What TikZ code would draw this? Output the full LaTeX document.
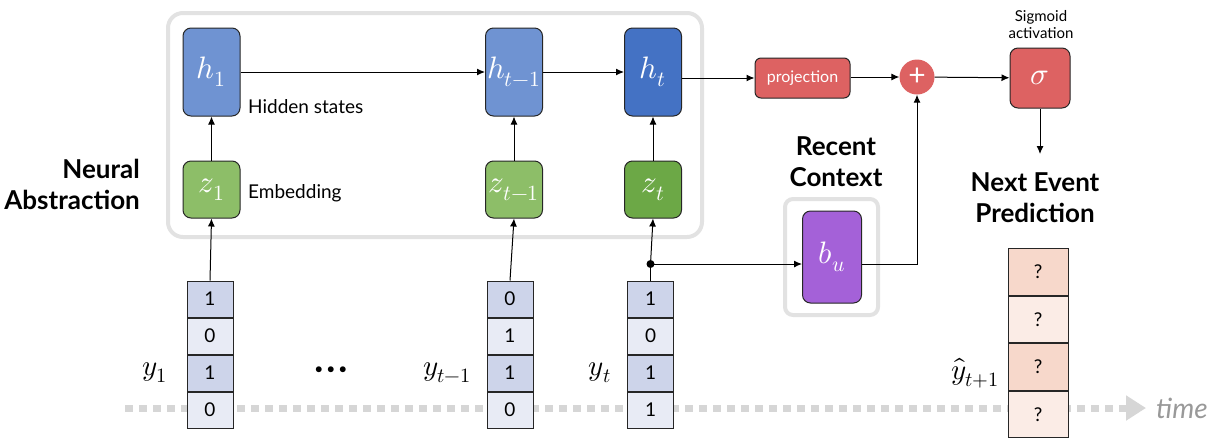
\documentclass[tikz,border=0pt]{standalone}
\usepackage{fontspec}
\usepackage{unicode-math}
\setmainfont{Lato}
\setmathfont{Latin Modern Math}
\usetikzlibrary{arrows.meta,positioning,calc}
\definecolor{hlight}{HTML}{6F93D2}
\definecolor{hdark}{HTML}{4472C4}
\definecolor{zlight}{HTML}{8DBE68}
\definecolor{zdark}{HTML}{6CA846}
\definecolor{redbox}{HTML}{DD6262}
\definecolor{purp}{HTML}{A461D8}
\definecolor{frame}{HTML}{E2E2E2}
\definecolor{cellA}{HTML}{CDD4EA}
\definecolor{cellB}{HTML}{E8EBF5}
\definecolor{predA}{HTML}{F7D8CB}
\definecolor{predB}{HTML}{FBECE6}
\definecolor{timegray}{HTML}{D6D6D6}
\definecolor{edge}{HTML}{262626}
\tikzset{
  unit/.style={draw=edge, line width=1pt, rounded corners=8pt, text=white,
    inner sep=0pt, font=\fontsize{31}{33}\selectfont},
  hbox/.style={unit, minimum width=57pt, minimum height=88pt},
  zbox/.style={unit, minimum width=57pt, minimum height=57pt},
  cell/.style={draw=edge, line width=1pt, minimum width=46pt, minimum height=36pt,
    inner sep=0pt, font=\fontsize{19}{21}\selectfont},
  pcell/.style={draw=edge, line width=1pt, minimum width=60pt, minimum height=46.5pt,
    inner sep=0pt, font=\fontsize{19}{21}\selectfont},
  conn/.style={line width=1pt, -{Latex[length=8pt,width=7pt]}},
  plain/.style={line width=1pt},
  caption/.style={font=\fontsize{19}{21}\selectfont, anchor=west, inner sep=0pt},
  heading/.style={font=\bfseries\fontsize{26}{31}\selectfont, align=center, inner sep=0pt},
  vlabel/.style={font=\fontsize{29}{31}\selectfont, inner sep=0pt},
}
\begin{document}
\begin{tikzpicture}[x=1pt,y=-1pt]
\useasboundingbox (0,0) rectangle (1225,437);

% time axis
\coordinate (tstart) at (125,408);
\coordinate (tend) at (1146,408);
\draw[timegray, line width=7pt, dash pattern=on 8pt off 6pt,
  -{Triangle[length=20pt,width=24pt]}] (tstart) -- (tend);
\node[font=\itshape\fontsize{28}{30}\selectfont, text=gray!80, anchor=west, inner sep=0pt] (timelbl) at (1156,408) {time};

% neural abstraction frame
\draw[frame, line width=4pt, rounded corners=15pt] (168,13) rectangle (702,237);
\node[heading, align=right, anchor=east] (na) at (140,184) {Neural\\Abstraction};

% hidden states
\node[hbox, fill=hlight] (h1) at (211.5,72) {$h_1$};
\node[hbox, fill=hlight] (htm) at (514,72) {$h_{t-1}$};
\node[hbox, fill=hdark] (ht) at (653,72) {$h_t$};
\node[caption] (hlbl) at (248,107) {Hidden states};

% embeddings
\node[zbox, fill=zlight] (z1) at (211.5,189.5) {$z_1$};
\node[zbox, fill=zlight] (ztm) at (514,189.5) {$z_{t-1}$};
\node[zbox, fill=zdark] (zt) at (653,189.5) {$z_t$};
\node[caption] (zlbl) at (248,193) {Embedding};

% output head
\node[unit, fill=redbox, minimum width=95pt, minimum height=40pt,
  font=\fontsize{16}{18}\selectfont, rounded corners=6pt] (proj) at (802.5,78) {projection};
\node[circle, fill=redbox, minimum size=35pt, inner sep=0pt, text=white,
  font=\fontsize{30}{30}\selectfont] (plus) at (917,77) {+};
\node[unit, fill=redbox, minimum width=60pt, minimum height=60pt] (sig) at (1040,78) {$\sigma$};
\node[font=\fontsize{15}{17}\selectfont, align=center, inner sep=0pt] (siglbl) at (1041,25) {Sigmoid\\activation};
\node[heading] (nep) at (1035,198) {Next Event\\Prediction};
\coordinate (nepin) at (1040,154);

% recent context
\draw[frame, line width=4pt, rounded corners=8pt] (785,199) rectangle (878,315);
\node[unit, fill=purp, minimum width=59pt, minimum height=92pt] (bu) at (832,257) {$b_u$};
\node[heading] (rc) at (836,162) {Recent\\Context};

% input vectors
\foreach \name/\x/\a/\b/\c/\d in {ya/210/1/0/1/0, yb/510/0/1/1/0, yc/650.5/1/0/1/1}{
  \node[cell, fill=cellA] (\name1) at (\x,299) {\a};
  \node[cell, fill=cellB, below=0pt of \name1] (\name2) {\b};
  \node[cell, fill=cellA, below=0pt of \name2] (\name3) {\c};
  \node[cell, fill=cellB, below=0pt of \name3] (\name4) {\d};
}
\node[vlabel] (ylbl1) at (155,373) {$y_1$};
\node[vlabel] (ylbl2) at (447,373) {$y_{t-1}$};
\node[vlabel] (ylbl3) at (600,373) {$y_t$};
\node[font=\fontsize{15}{15}\selectfont, inner sep=0pt] (dots) at (331,370) {$\bullet\hspace{1pt}\bullet\hspace{1pt}\bullet$};

% predicted vector
\node[pcell, fill=predA] (p1) at (1038,272) {?};
\node[pcell, fill=predB, below=0pt of p1] (p2) {?};
\node[pcell, fill=predA, below=0pt of p2] (p3) {?};
\node[pcell, fill=predB, below=0pt of p3] (p4) {?};
\node[vlabel] (ylblp) at (975,373) {$\hat{y}_{t+1}$};

% connectors
\draw[conn] (ya1.north) -- (z1.south);
\draw[conn] (yb1.north) -- (ztm.south);
\coordinate (fork) at (yc1.north |- 0,264);
\draw[plain] (yc1.north) -- (fork);
\draw[conn] (fork) -- (zt.south);
\fill (fork) circle (4pt);
\draw[conn] (fork) -- (bu.west |- fork);
\draw[conn] (bu.east |- fork) -| (plus.south);

\draw[conn] (z1) -- (h1);
\draw[conn] (ztm) -- (htm);
\draw[conn] (zt) -- (ht);
\draw[conn] (h1) -- (htm);
\draw[conn] (htm) -- (ht);
\draw[conn] (ht.east |- proj) -- (proj);
\draw[conn] (proj.east |- plus) -- (plus);
\draw[conn] (plus) -- (sig);
\draw[conn] (sig) -- (nepin);
\end{tikzpicture}
\end{document}
